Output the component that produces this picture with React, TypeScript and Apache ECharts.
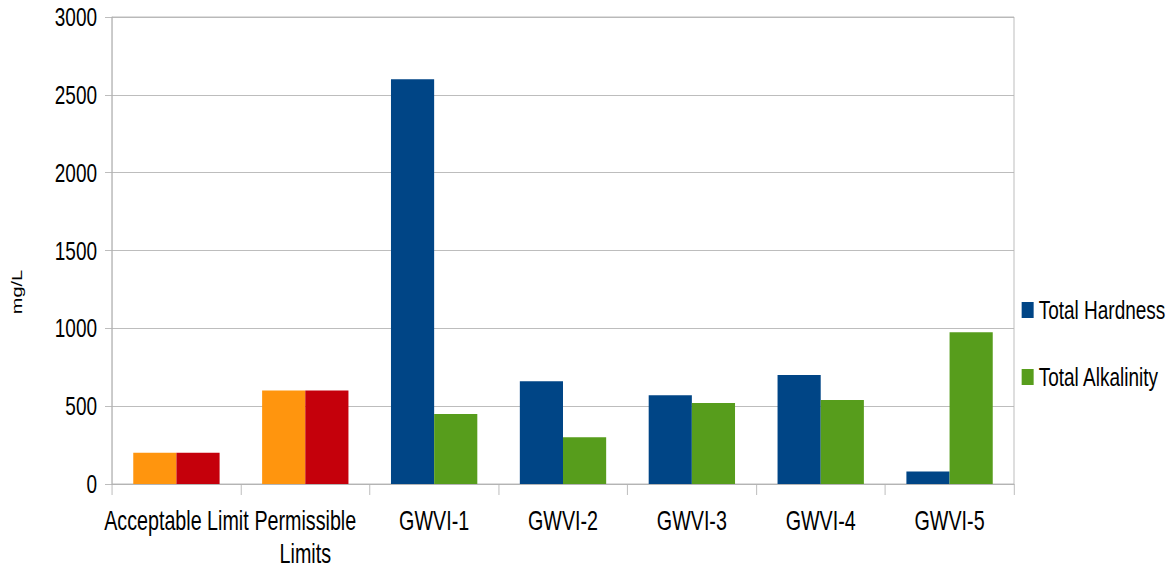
import React, { useEffect, useRef } from "react";
import * as echarts from "echarts";

const categories = ["Acceptable Limit", "Permissible Limits", "GWVI-1", "GWVI-2", "GWVI-3", "GWVI-4", "GWVI-5"];
const hardness = [200, 600, 2600, 660, 570, 700, 80];
const alkalinity = [200, 600, 450, 300, 520, 540, 975];
const yTicks = { min: 0, max: 3000, interval: 500 };
const limitColors = { first: "#ff950e", second: "#c5000b" };
const seriesColors = { hardness: "#004586", alkalinity: "#579d1c" };

// Reference text is horizontally condensed; render wider then compress.
const PAGE_W = 1176;
const PAGE_H = 574;
const K = 0.73;
const CW = Math.round(PAGE_W / K);
const KX = PAGE_W / CW;
const px = (v: number) => v / KX; // convert real horizontal px to chart px

const FONT = "'Liberation Sans', Arial, sans-serif";
const FS = 26;
const FSX = 27;

export default function App() {
  const ref = useRef<HTMLDivElement>(null);
  useEffect(() => {
    if (!ref.current) return;
    const chart = echarts.init(ref.current, undefined, { renderer: "svg" });
    const mk = (vals: number[], limitColor: string) =>
      vals.map((v, i) => (i < 2 ? { value: v, itemStyle: { color: limitColor } } : v));
    chart.setOption({
      animation: false,
      backgroundColor: "#ffffff",
      textStyle: { fontFamily: FONT },
      grid: {
        left: px(112),
        right: px(PAGE_W - 1014),
        top: 17,
        bottom: PAGE_H - 484,
        show: true,
        borderColor: "#b3b3b3",
        borderWidth: 1,
      },
      legend: {
        orient: "vertical",
        left: px(1018),
        top: 291,
        itemWidth: px(12),
        itemHeight: 16,
        itemGap: 39,
        icon: "rect",
        textStyle: { fontSize: FS, lineHeight: 28, color: "#000", fontFamily: FONT, padding: [0, 0, 0, 2] },
        data: ["Total Hardness", "Total Alkalinity"],
      },
      xAxis: {
        type: "category",
        data: categories,
        axisLine: { show: true, lineStyle: { color: "#b3b3b3" } },
        axisTick: { show: true, length: 11, lineStyle: { color: "#b3b3b3" } },
        axisLabel: {
          color: "#000",
          fontSize: FSX,
          fontFamily: FONT,
          margin: 20,
          interval: 0,
          lineHeight: 33,
          formatter: (v: string) => (v === "Permissible Limits" ? "Permissible\nLimits" : v),
        },
      },
      yAxis: {
        type: "value",
        min: yTicks.min,
        max: yTicks.max,
        interval: yTicks.interval,
        axisLine: { show: true, lineStyle: { color: "#b3b3b3" } },
        axisTick: { show: true, length: px(7), lineStyle: { color: "#b3b3b3" } },
        splitLine: { show: true, lineStyle: { color: "#b3b3b3" } },
        axisLabel: {
          color: "#000",
          fontSize: FS,
          fontFamily: FONT,
          margin: px(15),
          formatter: (v: number) => String(v),
        },
      },
      graphic: [
        {
          type: "text",
          x: px(17),
          y: 292,
          rotation: Math.PI / 2,
          style: {
            text: "mg/L",
            fontSize: 20,
            fontFamily: FONT,
            fill: "#000",
            align: "center",
            verticalAlign: "middle",
          },
        },
      ],
      series: [
        {
          name: "Total Hardness",
          type: "bar",
          data: mk(hardness, limitColors.first),
          itemStyle: { color: seriesColors.hardness },
          barGap: "0%",
          barCategoryGap: "33%",
        },
        {
          name: "Total Alkalinity",
          type: "bar",
          data: mk(alkalinity, limitColors.second),
          itemStyle: { color: seriesColors.alkalinity },
          barGap: "0%",
          barCategoryGap: "33%",
        },
      ],
    });
    return () => chart.dispose();
  }, []);
  return (
    <div
      style={{
        position: "fixed",
        left: 0,
        top: 0,
        width: PAGE_W,
        height: PAGE_H,
        overflow: "hidden",
        background: "#fff",
      }}
    >
      <div
        ref={ref}
        style={{
          width: CW,
          height: PAGE_H,
          transform: `scaleX(${KX})`,
          transformOrigin: "0 0",
        }}
      />
    </div>
  );
}
